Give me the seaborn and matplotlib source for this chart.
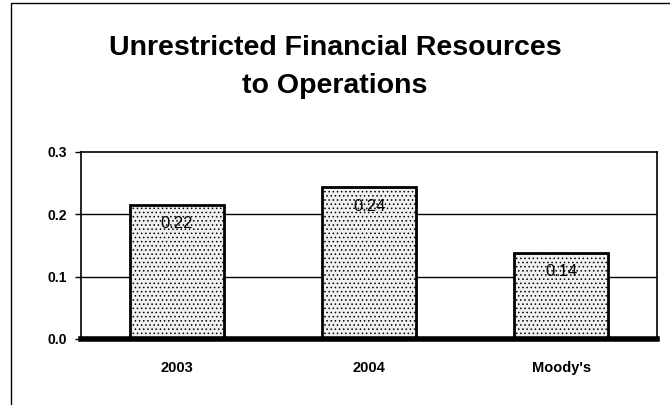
import numpy as np
import matplotlib
matplotlib.use("Agg")
import matplotlib.pyplot as plt
import matplotlib.patches as mpatches
import pandas as pd
import seaborn as sns

# dados
categorias = ["2003", "2004", "Moody's"]
valores = [0.215, 0.243, 0.138]
rotulos = ["0.22", "0.24", "0.14"]
yticks = [0.0, 0.1, 0.2, 0.3]

df = pd.DataFrame({"categoria": categorias, "valor": valores})

sns.set_style("white")
plt.rcParams["font.family"] = ["Liberation Sans", "DejaVu Sans"]
plt.rcParams["text.color"] = "black"
plt.rcParams["xtick.color"] = "black"
plt.rcParams["ytick.color"] = "black"
plt.rcParams["hatch.linewidth"] = 0.6
plt.rcParams["hatch.color"] = "#b4b4b4"

fig = plt.figure(figsize=(6.7, 4.05), dpi=100)
ax = fig.add_axes([0.121, 0.163, 0.860, 0.462])

sns.barplot(data=df, x="categoria", y="valor", ax=ax, width=0.49,
            color="#f0f0f0", edgecolor="black", linewidth=2.0, saturation=1)
for p in ax.patches:
    p.set_hatch("....")

# rotulos dentro das barras
for i, (v, r) in enumerate(zip(valores, rotulos)):
    ax.annotate(r, (i, v), xytext=(0, -8), textcoords="offset points",
                ha="center", va="top", fontsize=12)

ax.set_ylim(0, 0.3)
ax.set_xlim(-0.5, 2.5)
ax.set_yticks(yticks)
ax.set_yticklabels([f"{t:.1f}" for t in yticks], fontweight="bold", fontsize=10)
ax.set_xticks(range(len(categorias)))
ax.set_xticklabels(categorias, fontweight="bold", fontsize=10.5)
ax.tick_params(axis="x", which="major", length=0, pad=16)
ax.set_xticks([-0.5, 0.5, 1.5, 2.5], minor=True)
ax.tick_params(axis="x", which="minor", length=4, width=2.5, direction="out", color="black")
ax.tick_params(axis="y", length=4, width=1, direction="out", color="black", left=True, pad=6)
ax.set_xlabel("")
ax.set_ylabel("")

for y in [0.1, 0.2]:
    ax.axhline(y, color="black", lw=1, zorder=0)

for s in ["left", "right", "top"]:
    ax.spines[s].set_color("black")
    ax.spines[s].set_linewidth(1.2)
ax.spines["bottom"].set_color("black")
ax.spines["bottom"].set_linewidth(4)

fig.text(0.5, 0.835, "Unrestricted Financial Resources\nto Operations",
         ha="center", va="center", fontsize=20.5, fontweight="bold", linespacing=1.6)

# moldura externa
fig.patches.append(mpatches.Rectangle((11 / 670, -0.05), 0.99, 1 - 3 / 405 + 0.05,
                                      transform=fig.transFigure, fill=False,
                                      edgecolor="black", lw=1))

fig.savefig("out.png", dpi=100)
